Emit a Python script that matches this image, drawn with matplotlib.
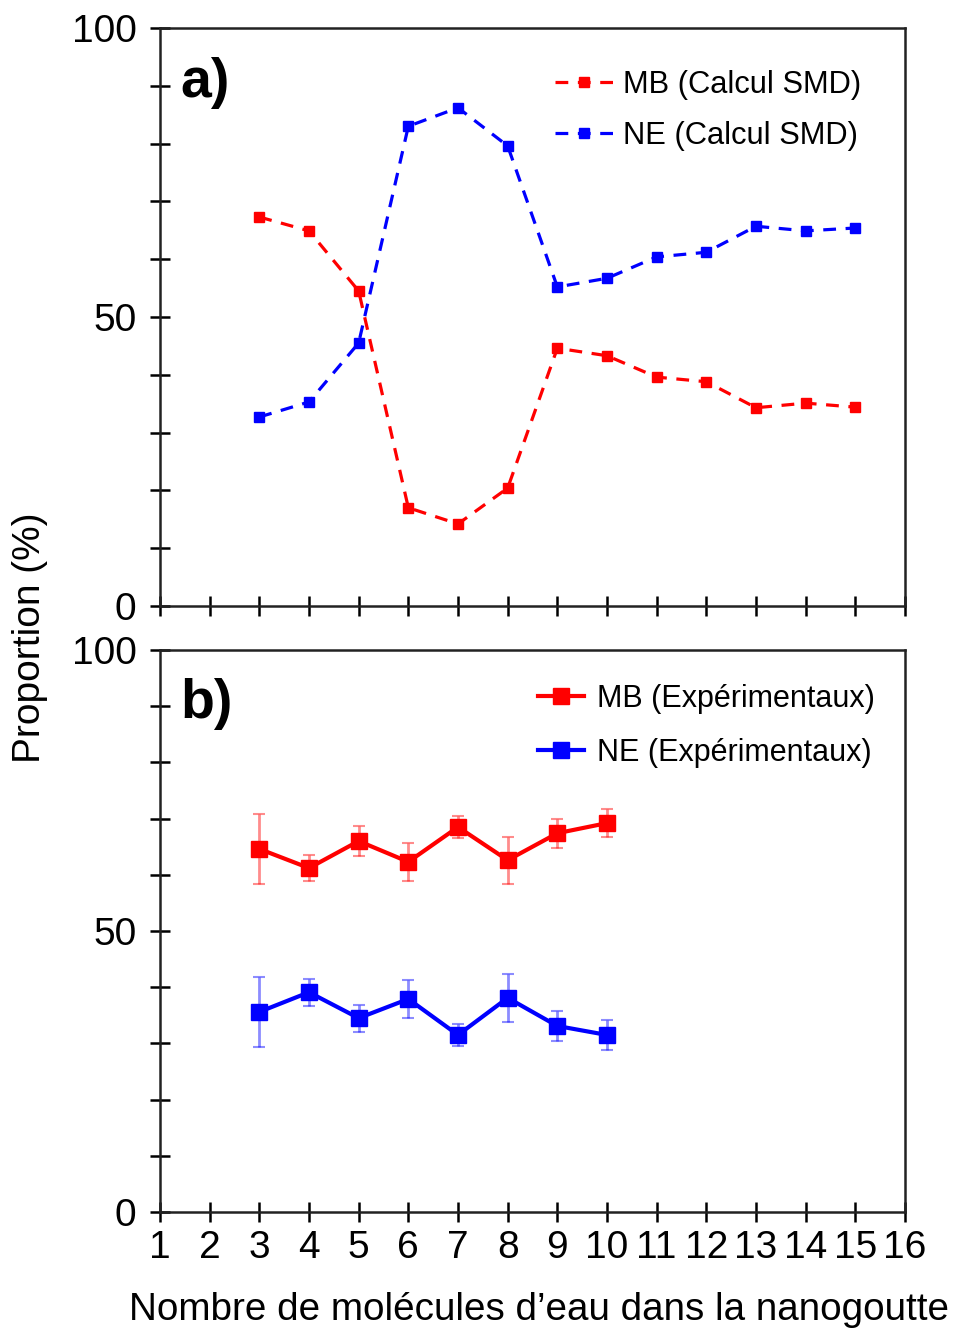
import numpy as np
import matplotlib.pyplot as plt

plt.rcParams['font.family'] = ['Liberation Sans', 'DejaVu Sans']

# a) calcul SMD
n_smd = [3, 4, 5, 6, 7, 8, 9, 10, 11, 12, 13, 14, 15]
mb_smd = [67.3, 64.9, 54.5, 17.0, 14.2, 20.4, 44.6, 43.3, 39.6, 38.8, 34.3, 35.1, 34.4]
ne_smd = [32.7, 35.3, 45.5, 83.0, 86.2, 79.6, 55.2, 56.7, 60.4, 61.2, 65.7, 64.9, 65.4]

# b) experimentaux
n_exp = [3, 4, 5, 6, 7, 8, 9, 10]
mb_exp = [64.6, 61.2, 66.0, 62.3, 68.5, 62.6, 67.4, 69.2]
mb_err = [6.2, 2.3, 2.6, 3.4, 2.0, 4.2, 2.6, 2.5]
ne_exp = [35.6, 39.1, 34.5, 37.9, 31.5, 38.1, 33.1, 31.5]
ne_err = [6.2, 2.4, 2.4, 3.4, 2.0, 4.3, 2.7, 2.6]

rouge = '#ff0000'
bleu = '#0000ff'

fig = plt.figure(figsize=(9.54, 13.33), dpi=100)
W, H = 954, 1333
ax1 = fig.add_axes([160 / W, (H - 606) / H, 745 / W, 578 / H])
ax2 = fig.add_axes([160 / W, (H - 1212) / H, 745 / W, 562 / H])

ax1.plot(n_smd, mb_smd, color=rouge, linestyle=(0, (4, 3)), lw=2.3, marker='s', ms=7,
         label='MB (Calcul SMD)')
ax1.plot(n_smd, ne_smd, color=bleu, linestyle=(0, (4, 3)), lw=2.3, marker='s', ms=7,
         label='NE (Calcul SMD)')

eb_mb = ax2.errorbar(n_exp, mb_exp, yerr=mb_err, color=rouge, lw=3, marker='s', ms=12,
                     ecolor=(1, 0, 0, 0.45), elinewidth=2, capsize=4, capthick=1.5)
eb_ne = ax2.errorbar(n_exp, ne_exp, yerr=ne_err, color=bleu, lw=3, marker='s', ms=12,
                     ecolor=(0, 0, 1, 0.45), elinewidth=2, capsize=4, capthick=1.5)

for ax in (ax1, ax2):
    ax.set_xlim(1, 16)
    ax.set_ylim(0, 100)
    ax.set_xticks(range(1, 17))
    ax.set_yticks(np.arange(0, 101, 10))
    ax.set_yticklabels(['0', '', '', '', '', '50', '', '', '', '', '100'])
    ax.tick_params(direction='inout', length=14, width=1.8, labelsize=28, pad=10)
    for s in ax.spines.values():
        s.set_linewidth(1.8)
        s.set_color('#222222')

ax1.set_xticklabels([])
ax2.tick_params(axis='x', pad=6)

ax1.text(0.027, 0.95, 'a)', transform=ax1.transAxes, fontsize=40, fontweight='bold',
         va='top', ha='left')
ax2.text(0.027, 0.95, 'b)', transform=ax2.transAxes, fontsize=40, fontweight='bold',
         va='top', ha='left')

ax1.legend(loc='upper left', bbox_to_anchor=(0.53, 0.928), frameon=False,
           borderpad=0, borderaxespad=0, fontsize=22.2,
           handlelength=1.9, handletextpad=0.3, labelspacing=0.68)
ax2.legend([eb_mb[0], eb_ne[0]], ['MB (Expérimentaux)', 'NE (Expérimentaux)'],
           loc='upper left', bbox_to_anchor=(0.507, 0.94), frameon=False,
           borderpad=0, borderaxespad=0, fontsize=22,
           handlelength=1.5, handletextpad=0.45, labelspacing=0.8)

fig.text(539 / W, 1 - 1310 / H, "Nombre de molécules d\u2019eau dans la nanogoutte",
         fontsize=27.8, ha='center', va='center')
fig.text(30 / W, 1 - 638 / H, 'Proportion (%)', rotation=90, fontsize=28,
         ha='center', va='center')

fig.savefig('out.png', dpi=100)
